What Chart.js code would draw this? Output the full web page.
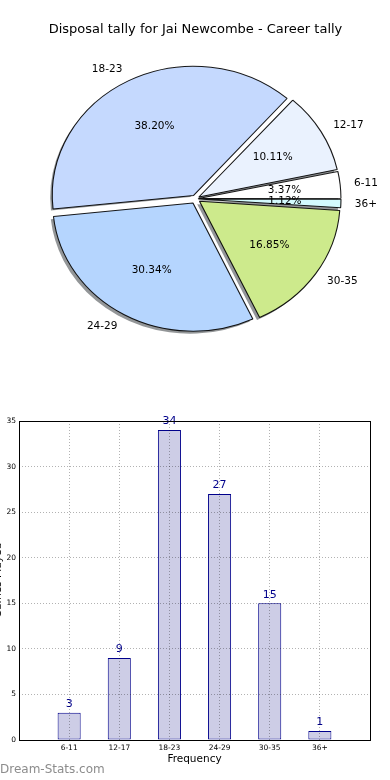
<!DOCTYPE html>
<html>
<head>
<meta charset="utf-8">
<script src="https://cdn.jsdelivr.net/npm/chart.js@4/dist/chart.umd.min.js"></script>
<style>
  html, body { margin: 0; padding: 0; background: #ffffff; }
  #wrap { position: relative; width: 390px; height: 780px; overflow: hidden; }
  canvas { position: absolute; left: 0; }
  #pie { top: 0; }
  #bar { top: 390px; }
</style>
</head>
<body>
<div id="wrap">
  <canvas id="pie" width="390" height="390"></canvas>
  <canvas id="bar" width="390" height="390"></canvas>
</div>
<script>
// ---------- data ----------
const chartTitle = 'Disposal tally for Jai Newcombe - Career tally';
const categories = ['6-11', '12-17', '18-23', '24-29', '30-35', '36+'];
const tallies = [3, 9, 34, 27, 15, 1];
const pieColors = ['#ffffff', '#eaf2fe', '#c5d9fe', '#b5d5fe', '#cdea8c', '#d3fbfe'];
const xAxisTitle = 'Frequency';
const yAxisTitle = 'Games Played';
const watermark = 'Dream-Stats.com';
const yMin = 0, yMax = 35, yStep = 5;

Chart.defaults.font.family = "'DejaVu Sans', sans-serif";
Chart.defaults.color = '#000';

// ---------- pie ----------
const total = tallies.reduce((a, b) => a + b, 0);
const pieLabels = categories.slice().reverse();
const pieValues = tallies.slice().reverse();
const pieBg = pieColors.slice().reverse();
const SX = 140 / 128;   // horizontal stretch (non-equal aspect)
const OFF = 5;          // explode distance (px, vertical units)

function chartJsOffset(v) {
  const circ = 2 * Math.PI * v / total;
  const fix = 1 - Math.sin(Math.min(Math.PI, circ));
  return OFF * 4 / (1 + fix);
}

const stretchPlugin = {
  id: 'stretch',
  beforeDatasetsDraw(chart) {
    const meta = chart.getDatasetMeta(0);
    const ctx = chart.ctx;
    ctx.save();
    ctx.translate(-2.8, 2.6);
    meta.data.forEach(arc => {
      const cx = arc.x, cy = arc.y;
      const mid = (arc.startAngle + arc.endAngle) / 2;
      ctx.save();
      ctx.translate(cx, cy); ctx.scale(SX, 1); ctx.translate(-cx, -cy);
      const ox = cx + Math.cos(mid) * OFF, oy = cy + Math.sin(mid) * OFF;
      ctx.beginPath();
      ctx.moveTo(ox, oy);
      ctx.arc(ox, oy, arc.outerRadius, arc.startAngle, arc.endAngle);
      ctx.closePath();
      ctx.fillStyle = 'rgba(40,45,50,0.5)';
      ctx.fill();
      ctx.restore();
    });
    ctx.restore();
  },
  beforeDatasetDraw(chart) {
    const arc = chart.getDatasetMeta(0).data[0];
    const ctx = chart.ctx;
    ctx.save();
    ctx.translate(arc.x, arc.y); ctx.scale(SX, 1); ctx.translate(-arc.x, -arc.y);
  },
  afterDatasetDraw(chart) {
    chart.ctx.restore();
  },
  afterDatasetsDraw(chart) {
    const meta = chart.getDatasetMeta(0);
    const ctx = chart.ctx;
    ctx.save();
    ctx.font = "10.5px 'DejaVu Sans'";
    ctx.fillStyle = '#000';
    ctx.textBaseline = 'middle';
    meta.data.forEach((arc, i) => {
      const cx = arc.x, cy = arc.y, r = arc.outerRadius;
      const mid = (arc.startAngle + arc.endAngle) / 2;
      const c = Math.cos(mid), s = Math.sin(mid);
      const ox = cx + c * OFF * SX, oy = cy + s * OFF;
      const px = ox + c * 0.6 * r * SX, py = oy + s * 0.6 * r;
      ctx.textAlign = 'center';
      ctx.fillText((pieValues[i] / total * 100).toFixed(2) + '%', px, py);
      const lx = ox + c * 1.1 * r * SX, ly = oy + s * 1.1 * r;
      ctx.textAlign = c >= 0 ? 'left' : 'right';
      ctx.fillText(pieLabels[i], lx, ly);
    });
    ctx.restore();
  }
};

new Chart(document.getElementById('pie'), {
  type: 'pie',
  data: {
    labels: pieLabels,
    datasets: [{
      data: pieValues,
      backgroundColor: pieBg,
      borderColor: 'rgba(0,0,0,0.9)',
      borderWidth: 1,
      radius: 128,
      offset: (c) => chartJsOffset(c.raw)
    }]
  },
  options: {
    responsive: false,
    animation: false,
    events: [],
    rotation: 90,
    layout: { padding: { left: 1, right: 0, top: 0, bottom: 30 } },
    plugins: {
      legend: { display: false },
      tooltip: { enabled: false },
      title: {
        display: true,
        text: chartTitle,
        color: '#000',
        font: { family: "'DejaVu Sans'", size: 13, weight: 'normal' },
        padding: { top: 22, bottom: 0 }
      }
    }
  },
  plugins: [stretchPlugin]
});

// ---------- bar ----------
const barLabels = [''].concat(categories, ['']);
const barData = [null].concat(tallies, [null]);

const barExtras = {
  id: 'barExtras',
  afterDatasetsDraw(chart) {
    const ctx = chart.ctx;
    const meta = chart.getDatasetMeta(0);
    ctx.save();
    ctx.font = "11px 'DejaVu Sans'";
    ctx.fillStyle = '#00008b';
    ctx.textAlign = 'center';
    ctx.textBaseline = 'bottom';
    meta.data.forEach((bar, i) => {
      const v = barData[i];
      if (v === null) return;
      ctx.fillText(String(v), bar.x, bar.y - 3);
    });
    ctx.restore();
  },
  afterDraw(chart) {
    const ctx = chart.ctx;
    const a = chart.chartArea;
    ctx.save();
    ctx.strokeStyle = '#000';
    ctx.lineWidth = 1;
    ctx.strokeRect(Math.round(a.left) + 0.5, Math.round(a.top) + 0.5,
      Math.round(a.right - a.left), Math.round(a.bottom - a.top));
    // y axis title (partially clipped at left edge)
    ctx.translate(-2, (a.top + a.bottom) / 2);
    ctx.rotate(-Math.PI / 2);
    ctx.font = "10.5px 'DejaVu Sans'";
    ctx.fillStyle = '#000';
    ctx.textAlign = 'center';
    ctx.textBaseline = 'middle';
    ctx.fillText(yAxisTitle, 0, 0);
    ctx.restore();
    // watermark
    ctx.save();
    ctx.font = "12px 'DejaVu Sans'";
    ctx.fillStyle = '#8c8c8c';
    ctx.textAlign = 'left';
    ctx.textBaseline = 'middle';
    ctx.fillText(watermark, 0, 380);
    ctx.restore();
  }
};

new Chart(document.getElementById('bar'), {
  type: 'bar',
  data: {
    labels: barLabels,
    datasets: [{
      data: barData,
      backgroundColor: '#cdcde6',
      borderColor: '#00008b',
      borderWidth: 1,
      borderSkipped: false,
      barPercentage: 0.46,
      categoryPercentage: 1
    }]
  },
  options: {
    responsive: false,
    animation: false,
    events: [],
    layout: { padding: { left: 0, right: 20, top: 31, bottom: 0 } },
    plugins: { legend: { display: false }, tooltip: { enabled: false } },
    scales: {
      x: {
        type: 'category',
        offset: false,
        grid: { offset: false, color: 'rgba(0,0,0,0.3)', drawTicks: false, z: 1 },
        border: { display: false, dash: [1, 2] },
        ticks: { autoSkip: false, maxRotation: 0, padding: 4, color: '#000', font: { size: 7.5 } },
        title: { display: true, text: xAxisTitle, color: '#000', font: { size: 10.5 }, padding: { top: 14, bottom: 14 } },
        afterFit(s) { s.height = 40; }
      },
      y: {
        min: yMin, max: yMax,
        grid: { color: 'rgba(0,0,0,0.3)', drawTicks: false, z: 1 },
        border: { display: false, dash: [1, 2] },
        ticks: { stepSize: yStep, padding: 3, color: '#000', font: { size: 7.5 } },
        afterFit(s) { s.width = 19; }
      }
    }
  },
  plugins: [barExtras]
});
</script>
</body>
</html>
